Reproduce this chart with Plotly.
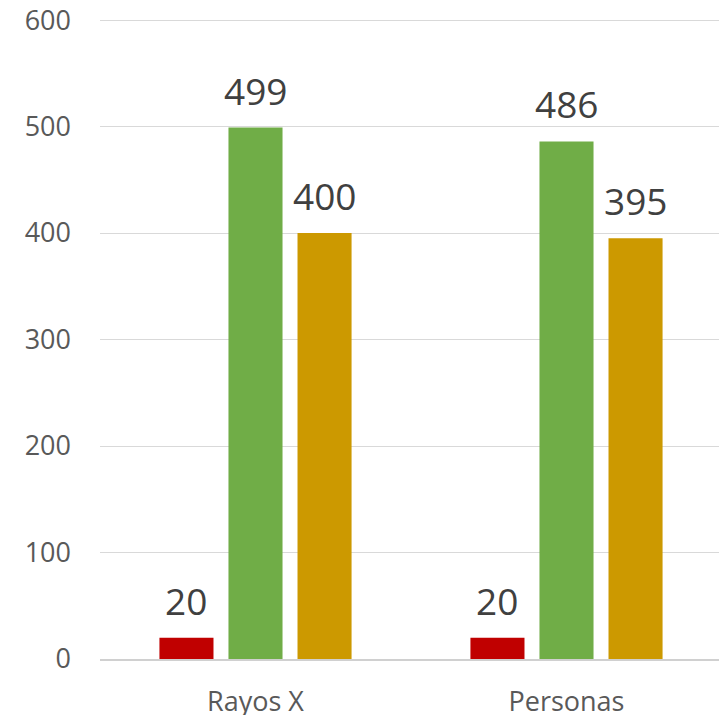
import plotly.graph_objects as go

categories = ["Rayos X", "Personas"]
series_names = ["Serie 1", "Serie 2", "Serie 3"]
serie1 = [20, 20]
serie2 = [499, 486]
serie3 = [400, 395]
colors = ["#C00000", "#70AD47", "#CC9900"]
y_ticks = [0, 100, 200, 300, 400, 500, 600]

BARGAP = 0.334
BARGROUPGAP = 0.217
all_series = [serie1, serie2, serie3]
n = len(all_series)

fig = go.Figure()
for name, vals, col in zip(series_names, all_series, colors):
    fig.add_trace(go.Bar(
        x=categories, y=vals, name=name,
        marker=dict(color=col, line=dict(width=0)),
        showlegend=False, hoverinfo="x+y",
    ))

# data labels above bars
slot = (1 - BARGAP) / n
for i, vals in enumerate(all_series):
    for j, v in enumerate(vals):
        fig.add_annotation(
            x=j + (i - (n - 1) / 2) * slot, y=v, xref="x", yref="y",
            text=str(v), showarrow=False, yanchor="bottom", xanchor="center",
            yshift=10,
            font=dict(family="Open Sans", size=37, color="#404040"),
        )

fig.update_layout(
    width=719, height=707,
    margin=dict(l=92, r=5, t=11, b=56, autoexpand=False),
    barmode="group", bargap=BARGAP, bargroupgap=BARGROUPGAP,
    plot_bgcolor="white", paper_bgcolor="white",
    font=dict(family="Open Sans", color="#595959"),
)
fig.update_yaxes(
    range=[0, 601], tickvals=y_ticks, showgrid=True, gridcolor="#D9D9D9", gridwidth=1.3,
    zeroline=False, showline=False, ticks="", ticklabelstandoff=28,
    ticklabeloverflow="allow",
    tickfont=dict(family="Open Sans", size=27, color="#595959"),
)
fig.update_xaxes(
    type="category", range=[-0.5, 1.5], showline=True, linecolor="#D0D0D0", linewidth=1.5,
    ticks="", ticklabelstandoff=18, ticklabeloverflow="allow",
    tickfont=dict(family="Open Sans", size=27, color="#595959"),
)
fig.write_html("out.html")
